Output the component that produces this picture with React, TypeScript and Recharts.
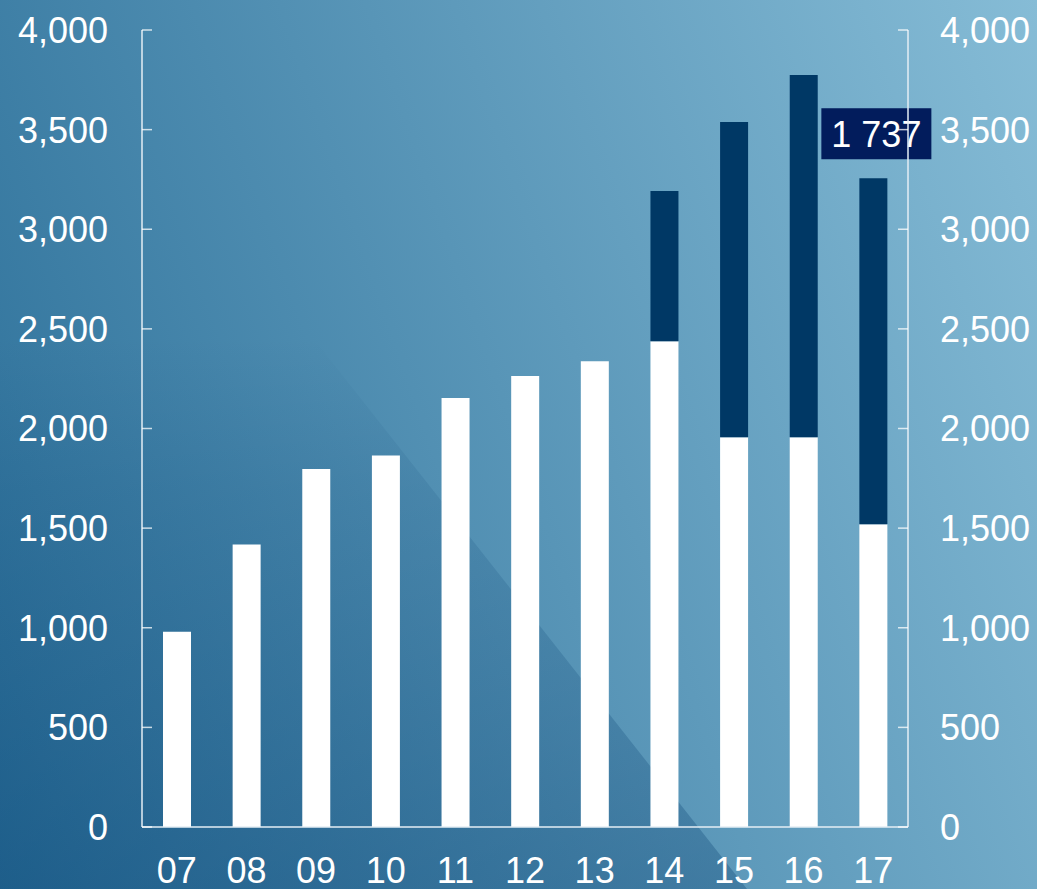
import React from "react";
import { ComposedChart, Bar, Line, XAxis, YAxis, Rectangle } from "recharts";

const years = ["07", "08", "09", "10", "11", "12", "13", "14", "15", "16", "17"];
const baseValues = [980, 1418, 1797, 1864, 2153, 2263, 2337, 2438, 1956, 1956, 1519];
const extraValues = [0, 0, 0, 0, 0, 0, 0, 754, 1582, 1818, 1737];
const yTicks = [0, 500, 1000, 1500, 2000, 2500, 3000, 3500, 4000];
const labelIndex = 10;

const W = 1037;
const H = 889;
const FONT = "'Liberation Sans', Arial, Helvetica, sans-serif";
const AXIS = "#e4eef4";
const TICK = "rgba(255,255,255,0.75)";

const data = years.map((year, i) => ({
  year,
  base: baseValues[i],
  extra: extraValues[i],
}));

const fmt = (v: number) => Number(v).toLocaleString("en-US");

// left axis: ticks point inward (to the right)
function LeftTick(props: any) {
  const { x, y, payload } = props;
  return (
    <g>
      <line x1={x + 34} x2={x + 44} y1={y} y2={y} stroke={TICK} strokeWidth={1.5} />
      <text x={x} y={y} dy="0.36em" textAnchor="end" fill="#fff" fontSize={36} fontFamily={FONT}>
        {fmt(payload.value)}
      </text>
    </g>
  );
}

// right axis: ticks point inward (to the left)
function RightTick(props: any) {
  const { x, y, payload } = props;
  return (
    <g>
      <line x1={x - 32} x2={x - 42} y1={y} y2={y} stroke={TICK} strokeWidth={1.5} />
      <text x={x} y={y} dy="0.36em" textAnchor="start" fill="#fff" fontSize={36} fontFamily={FONT}>
        {fmt(payload.value)}
      </text>
    </g>
  );
}

// dark segment, with the boxed value above the last bar
function ExtraShape(props: any) {
  const { x, y, width, height, index, payload, fill } = props;
  const showLabel = index === labelIndex;
  const cx = x + width / 2 + 3;
  const boxW = 110;
  const boxH = 51;
  const top = y - 19 - boxH;
  return (
    <g>
      <Rectangle x={x} y={y} width={width} height={height} fill={fill} />
      {showLabel && (
        <g>
          <rect x={cx - boxW / 2} y={top} width={boxW} height={boxH} fill="#021c5c" />
          <text
            x={cx}
            y={top + boxH / 2}
            dy="0.36em"
            textAnchor="middle"
            fill="#fff"
            fontSize={36}
            fontFamily={FONT}
          >
            {fmt(payload.extra).replace(",", " ")}
          </text>
        </g>
      )}
    </g>
  );
}

export default function App() {
  return (
    <div
      style={{
        position: "absolute",
        left: 0,
        top: 0,
        width: W,
        height: H,
        overflow: "hidden",
        background: "linear-gradient(71deg, #2a6e98 0%, #86bcd6 100%)",
        fontFamily: FONT,
      }}
    >
      {/* darker diagonal band in the lower left, fading out upwards */}
      <svg width={W} height={H} style={{ position: "absolute", left: 0, top: 0 }}>
        <defs>
          <linearGradient id="shade" x1="0" y1="1" x2="0" y2="0">
            <stop offset="0%" stopColor="#00386a" stopOpacity={0.3} />
            <stop offset="45%" stopColor="#00386a" stopOpacity={0.11} />
            <stop offset="62%" stopColor="#00386a" stopOpacity={0} />
          </linearGradient>
        </defs>
        <polygon points={`0,${H} 747,${H} 47,0 0,0`} fill="url(#shade)" />
      </svg>
      <div style={{ position: "absolute", left: 0, top: 0 }}>
        <ComposedChart
          width={W}
          height={H}
          data={data}
          margin={{ top: 30, right: 0, left: 0, bottom: 0 }}
          barSize={28}
        >
          <XAxis
            dataKey="year"
            height={62}
            interval={0}
            tickSize={0}
            tickMargin={30}
            axisLine={{ stroke: AXIS, strokeWidth: 1.5 }}
            tickLine={false}
            tick={{ fill: "#fff", fontSize: 36, fontFamily: FONT }}
          />
          <YAxis
            yAxisId="left"
            orientation="left"
            width={142}
            domain={[0, 4000]}
            ticks={yTicks}
            tickSize={0}
            tickMargin={34}
            axisLine={{ stroke: AXIS, strokeWidth: 1.5 }}
            tickLine={false}
            tick={<LeftTick />}
          />
          <YAxis
            yAxisId="right"
            orientation="right"
            width={129}
            domain={[0, 4000]}
            ticks={yTicks}
            tickSize={0}
            tickMargin={32}
            axisLine={{ stroke: AXIS, strokeWidth: 1.5 }}
            tickLine={false}
            tick={<RightTick />}
          />
          <Bar yAxisId="left" dataKey="base" stackId="a" fill="#ffffff" isAnimationActive={false} />
          <Bar
            yAxisId="left"
            dataKey="extra"
            stackId="a"
            fill="#003865"
            shape={<ExtraShape />}
            isAnimationActive={false}
          />
          {/* invisible series so the right axis gets its scale */}
          <Line
            yAxisId="right"
            dataKey="base"
            stroke="none"
            dot={false}
            activeDot={false}
            legendType="none"
            isAnimationActive={false}
          />
        </ComposedChart>
      </div>
    </div>
  );
}
